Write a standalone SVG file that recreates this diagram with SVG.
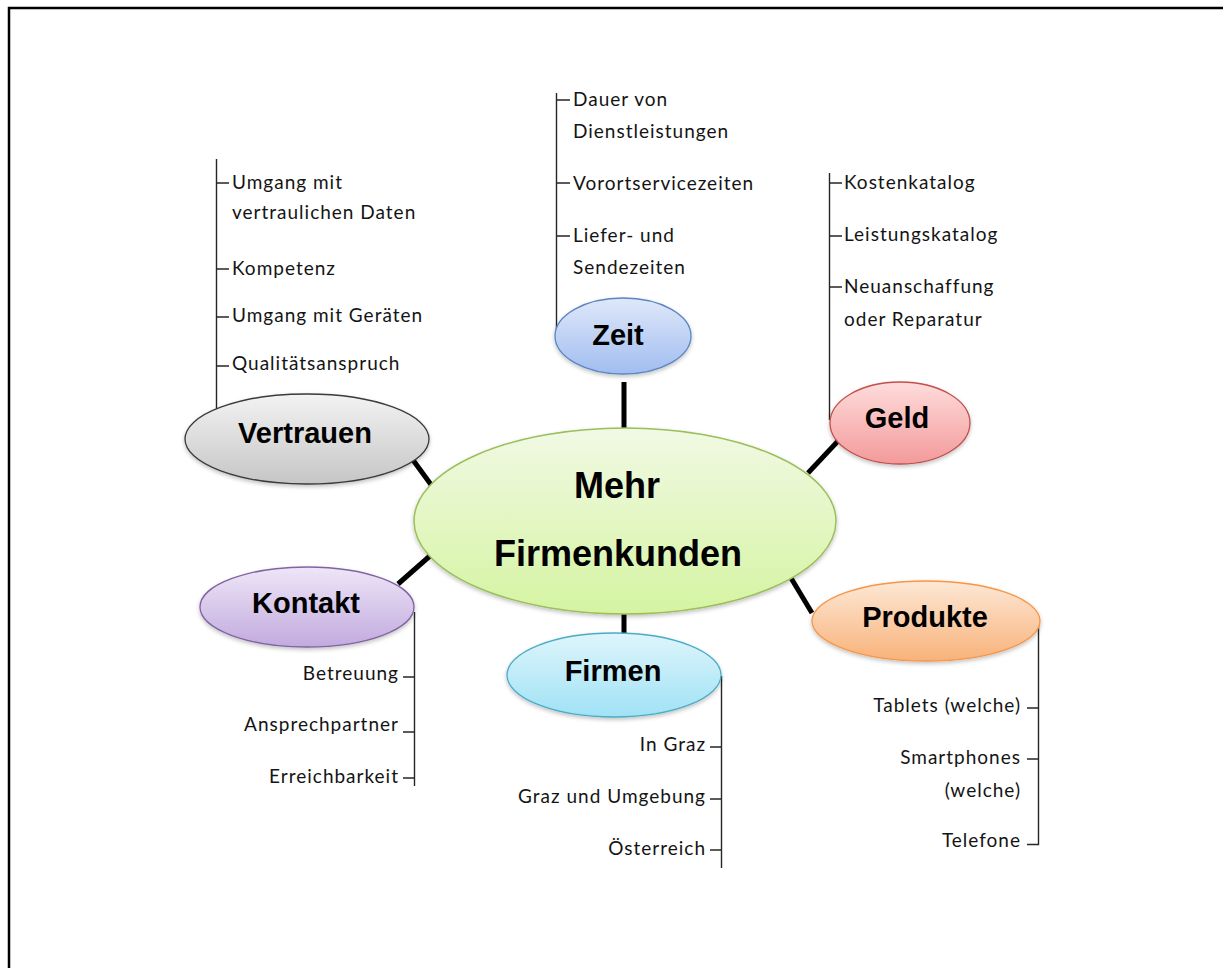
<svg xmlns="http://www.w3.org/2000/svg" width="1223" height="968" viewBox="0 0 1223 968">
  <defs>
    <linearGradient id="gCenter" x1="0" y1="0" x2="0" y2="1">
      <stop offset="0" stop-color="#f1f9e4"/>
      <stop offset="1" stop-color="#d5f4a2"/>
    </linearGradient>
    <linearGradient id="gZeit" x1="0" y1="0" x2="0" y2="1">
      <stop offset="0" stop-color="#dfe8f9"/>
      <stop offset="1" stop-color="#a1bdf0"/>
    </linearGradient>
    <linearGradient id="gVertrauen" x1="0" y1="0" x2="0" y2="1">
      <stop offset="0" stop-color="#f3f3f3"/>
      <stop offset="1" stop-color="#c6c6c6"/>
    </linearGradient>
    <linearGradient id="gGeld" x1="0" y1="0" x2="0" y2="1">
      <stop offset="0" stop-color="#ffdcdc"/>
      <stop offset="1" stop-color="#f39a9a"/>
    </linearGradient>
    <linearGradient id="gKontakt" x1="0" y1="0" x2="0" y2="1">
      <stop offset="0" stop-color="#eee6f7"/>
      <stop offset="1" stop-color="#c2aadf"/>
    </linearGradient>
    <linearGradient id="gFirmen" x1="0" y1="0" x2="0" y2="1">
      <stop offset="0" stop-color="#def5fb"/>
      <stop offset="1" stop-color="#a0e2f5"/>
    </linearGradient>
    <linearGradient id="gProdukte" x1="0" y1="0" x2="0" y2="1">
      <stop offset="0" stop-color="#fde8d6"/>
      <stop offset="1" stop-color="#f8b27a"/>
    </linearGradient>
    <filter id="soft" x="-10%" y="-10%" width="120%" height="130%">
      <feGaussianBlur in="SourceAlpha" stdDeviation="2"/>
      <feOffset dx="0" dy="2" result="b"/>
      <feComponentTransfer><feFuncA type="linear" slope="0.25"/></feComponentTransfer>
      <feMerge><feMergeNode/><feMergeNode in="SourceGraphic"/></feMerge>
    </filter>
  </defs>
  <style>
    .frame { fill: none; stroke: #000; stroke-width: 2.5; }
    .spoke { stroke: #000; stroke-width: 5; stroke-linecap: butt; }
    .branch { fill: none; stroke: #262626; stroke-width: 1.4; }
    .title { font-family: "Liberation Sans", Arial, sans-serif; font-weight: bold; font-size: 29px; fill: #000; text-anchor: middle; }
    .big { font-size: 36px; }
    .item { font-family: Lato, "Liberation Sans", sans-serif; font-size: 19px; letter-spacing: 1px; fill: #141414; }
    .r { text-anchor: end; }
  </style>

  <rect class="frame" x="9" y="8" width="1230" height="980"/>

  <!-- connectors: spokes from the centre and the item brackets -->
  <g id="connectors">
    <line class="spoke" x1="624" y1="382" x2="624" y2="428"/>
    <line class="spoke" x1="413" y1="460" x2="432" y2="486"/>
    <line class="spoke" x1="838" y1="441" x2="808" y2="473"/>
    <line class="spoke" x1="398" y1="584" x2="431" y2="555"/>
    <line class="spoke" x1="624" y1="613" x2="624" y2="634"/>
    <line class="spoke" x1="791" y1="578" x2="812" y2="613"/>

    <!-- Vertrauen -->
    <path class="branch" d="M216.5,159 V410 M216.5,183 H229 M216.5,269 H229 M216.5,317 H229 M216.5,366 H229"/>
    <!-- Zeit -->
    <path class="branch" d="M556.5,93 V340 M556.5,100 H570 M556.5,183 H570 M556.5,236 H570"/>
    <!-- Geld -->
    <path class="branch" d="M829.5,173 V420 M829.5,183 H842 M829.5,236 H842 M829.5,287 H842"/>
    <!-- Kontakt -->
    <path class="branch" d="M414.5,612 V786 M403,677 H414.5 M403,732 H414.5 M403,778 H414.5"/>
    <!-- Firmen -->
    <path class="branch" d="M721.5,676 V868 M710,747 H721.5 M710,799 H721.5 M710,850 H721.5"/>
    <!-- Produkte -->
    <path class="branch" d="M1038.5,617 V844.5 H1027 M1027,708 H1038.5 M1027,759 H1038.5"/>
  </g>

  <g id="center">
    <ellipse cx="625" cy="521" rx="211" ry="93" fill="url(#gCenter)" stroke="#9cbf5c" stroke-width="1.5" filter="url(#soft)"/>
    <text class="title big" x="617" y="498">Mehr</text>
    <text class="title big" x="618" y="566">Firmenkunden</text>
  </g>

  <g id="zeit">
    <ellipse cx="623" cy="336" rx="68" ry="38" fill="url(#gZeit)" stroke="#5a86c2" stroke-width="1.3" filter="url(#soft)"/>
    <text class="title" x="618" y="345">Zeit</text>
    <text class="item" x="573" y="106">Dauer von</text>
    <text class="item" x="573" y="138">Dienstleistungen</text>
    <text class="item" x="573" y="190">Vorortservicezeiten</text>
    <text class="item" x="573" y="242">Liefer- und</text>
    <text class="item" x="573" y="274">Sendezeiten</text>
  </g>

  <g id="vertrauen">
    <ellipse cx="307" cy="439" rx="122" ry="45" fill="url(#gVertrauen)" stroke="#3a3a3a" stroke-width="1.3" filter="url(#soft)"/>
    <text class="title" x="305" y="443">Vertrauen</text>
    <text class="item" x="232" y="189">Umgang mit</text>
    <text class="item" x="232" y="219">vertraulichen Daten</text>
    <text class="item" x="232" y="275">Kompetenz</text>
    <text class="item" x="232" y="322">Umgang mit Geräten</text>
    <text class="item" x="232" y="370">Qualitätsanspruch</text>
  </g>

  <g id="geld">
    <ellipse cx="900" cy="423" rx="70" ry="41" fill="url(#gGeld)" stroke="#c0504d" stroke-width="1.3" filter="url(#soft)"/>
    <text class="title" x="897" y="428">Geld</text>
    <text class="item" x="844" y="189">Kostenkatalog</text>
    <text class="item" x="844" y="241">Leistungskatalog</text>
    <text class="item" x="844" y="293">Neuanschaffung</text>
    <text class="item" x="844" y="326">oder Reparatur</text>
  </g>

  <g id="kontakt">
    <ellipse cx="307" cy="607" rx="107" ry="40" fill="url(#gKontakt)" stroke="#8064a2" stroke-width="1.3" filter="url(#soft)"/>
    <text class="title" x="306" y="613">Kontakt</text>
    <text class="item r" x="399" y="680">Betreuung</text>
    <text class="item r" x="399" y="731">Ansprechpartner</text>
    <text class="item r" x="399" y="783">Erreichbarkeit</text>
  </g>

  <g id="firmen">
    <ellipse cx="614" cy="675" rx="107" ry="42" fill="url(#gFirmen)" stroke="#4bacc6" stroke-width="1.3" filter="url(#soft)"/>
    <text class="title" x="613" y="681">Firmen</text>
    <text class="item r" x="706" y="751">In Graz</text>
    <text class="item r" x="706" y="803">Graz und Umgebung</text>
    <text class="item r" x="706" y="855">Österreich</text>
  </g>

  <g id="produkte">
    <ellipse cx="926" cy="621" rx="114" ry="40" fill="url(#gProdukte)" stroke="#f79646" stroke-width="1.3" filter="url(#soft)"/>
    <text class="title" x="925" y="627">Produkte</text>
    <text class="item r" x="1021" y="712">Tablets (welche)</text>
    <text class="item r" x="1021" y="764">Smartphones</text>
    <text class="item r" x="1021" y="797">(welche)</text>
    <text class="item r" x="1021" y="847">Telefone</text>
  </g>
</svg>
